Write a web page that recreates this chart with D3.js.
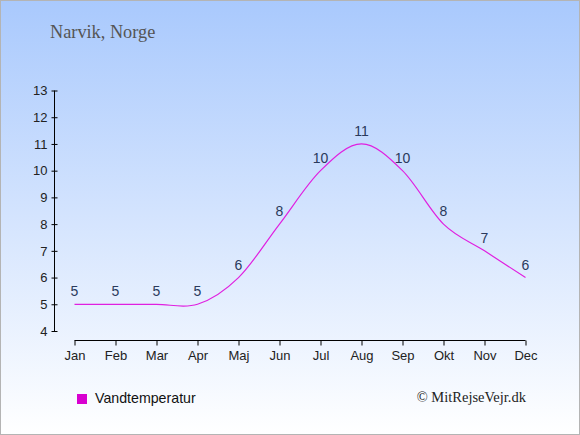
<!DOCTYPE html>
<html><head><meta charset="utf-8">
<script src="https://cdn.jsdelivr.net/npm/d3@7"></script>
<style>html,body{margin:0;padding:0;}svg{display:block;}</style>
</head><body>
<script>
const months = ["Jan","Feb","Mar","Apr","Maj","Jun","Jul","Aug","Sep","Okt","Nov","Dec"];
const waterTemp = [5,5,5,5,6,8,10,11,10,8,7,6];
const yTicks = [4,5,6,7,8,9,10,11,12,13];
const title = "Narvik, Norge";
const seriesName = "Vandtemperatur";
const credit = "© MitRejseVejr.dk";

const W = 580, H = 435;
const svg = d3.select("body").append("svg").attr("width", W).attr("height", H);
const defs = svg.append("defs");
const g = defs.append("linearGradient").attr("id","bg").attr("x1",0).attr("y1",0).attr("x2",0).attr("y2",1);
g.append("stop").attr("offset","0%").attr("stop-color","#a9c9fd");
g.append("stop").attr("offset","100%").attr("stop-color","#ffffff");
svg.append("rect").attr("x",0.5).attr("y",0.5).attr("width",W-1).attr("height",H-1)
  .attr("fill","url(#bg)").attr("stroke","#b4b4b4").attr("stroke-width",1);

svg.append("text").attr("x",50).attr("y",37.5).text(title)
  .attr("font-family","'Liberation Serif', serif").attr("font-size",18.3).attr("fill","#555");

const x = d3.scalePoint().domain(months).range([74.5, 525.5]);
const y = d3.scaleLinear().domain([4,13]).range([331, 90.5]);

// y axis
const yAxis = svg.append("g").attr("transform","translate(54.5,0)")
  .call(d3.axisLeft(y).tickValues(yTicks).tickSizeInner(3).tickSizeOuter(0).tickPadding(4));
yAxis.select(".domain").attr("d", `M0,${y(13)}V${y(4)}`);
yAxis.selectAll(".tick line").attr("x1",3).attr("x2",-3);
// x axis
const xAxis = svg.append("g").attr("transform","translate(0,340.5)")
  .call(d3.axisBottom(x).tickSizeInner(5).tickSizeOuter(0).tickPadding(5));
xAxis.select(".domain").attr("d", `M${x("Jan")},0H${x("Dec")}`);
svg.selectAll(".tick text").attr("font-family","'Liberation Sans', Arial, sans-serif").attr("font-size",13).attr("fill","#222");
svg.selectAll(".domain, .tick line").attr("stroke","#000");

const data = months.map((m,i)=>({m, v: waterTemp[i]}));
const line = d3.line().x(d=>x(d.m)).y(d=>y(d.v)).curve(d3.curveCatmullRom.alpha(0));
svg.append("path").attr("d", line(data)).attr("fill","none").attr("stroke","#e020e0").attr("stroke-width",1.2);

svg.selectAll(".lbl").data(data).enter().append("text").attr("class","lbl")
  .attr("x", d=>x(d.m)).attr("y", d=>y(d.v)-8).attr("text-anchor","middle")
  .attr("font-family","'Liberation Sans', Arial, sans-serif").attr("font-size",14).attr("fill","#2a3a5c")
  .text(d=>d.v);

// legend
svg.append("rect").attr("x",77).attr("y",394).attr("width",10).attr("height",10).attr("fill","#d800d0");
svg.append("text").attr("x",95).attr("y",403).text(seriesName)
  .attr("font-family","'Liberation Sans', Arial, sans-serif").attr("font-size",14.2).attr("fill","#111");
svg.append("text").attr("x",526).attr("y",402).attr("text-anchor","end").text(credit)
  .attr("font-family","'Liberation Serif', serif").attr("font-size",14.5).attr("fill","#222");
</script>
</body></html>
